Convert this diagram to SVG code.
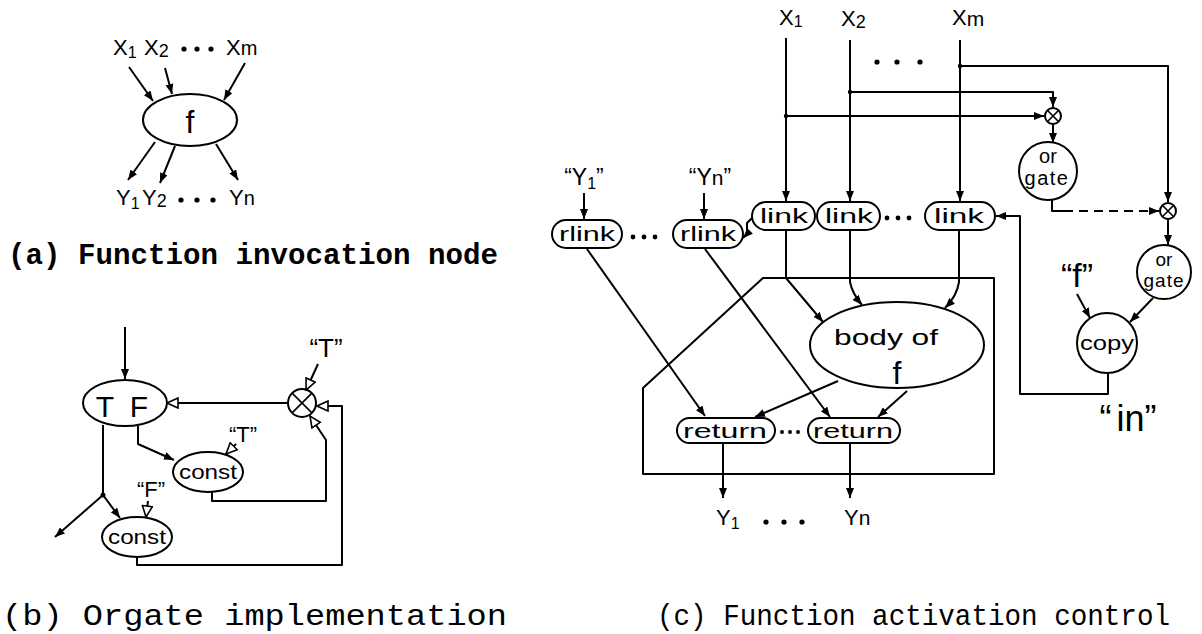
<svg xmlns="http://www.w3.org/2000/svg" width="1202" height="634" viewBox="0 0 1202 634">
<defs>
<style>
.ln{fill:none;stroke:#000;stroke-width:2;stroke-linejoin:round}
.nd{fill:#fff;stroke:#000;stroke-width:2}
.x{fill:none;stroke:#000;stroke-width:1.6}
.lb{font-family:"Liberation Sans",Arial,sans-serif;fill:#000}
.cap{font-family:"Liberation Mono","Courier New",monospace;fill:#000}
.dot{fill:#000}
</style>
<marker id="ah" viewBox="0 0 10 8" markerWidth="10" markerHeight="8" refX="10" refY="4" orient="auto" markerUnits="userSpaceOnUse"><path d="M0,0 L10,4 L0,8 Z" fill="#000"/></marker>
<marker id="oh" viewBox="0 0 13 12" markerWidth="13" markerHeight="12" refX="12" refY="6" orient="auto" markerUnits="userSpaceOnUse"><path d="M1,1 L12,6 L1,11 Z" fill="#fff" stroke="#000" stroke-width="1.6"/></marker>
</defs>
<rect width="1202" height="634" fill="#fff"/>

<!-- ============ (a) ============ -->
<g id="a-labels" class="lb" font-size="22">
<text x="113" y="55">X<tspan font-size="16" dy="3">1</tspan></text>
<text x="144" y="55">X<tspan font-size="18" dy="2">2</tspan></text>
<text x="226" y="55">X<tspan font-size="20">m</tspan></text>
<text x="116" y="205">Y<tspan font-size="16" dy="4">1</tspan></text>
<text x="142" y="205">Y<tspan font-size="18" dy="2">2</tspan></text>
<text x="229" y="205">Y<tspan font-size="20">n</tspan></text>
</g>
<g id="a-dots" class="dot">
<circle cx="184" cy="49" r="2.6"/><circle cx="197" cy="49" r="2.6"/><circle cx="211" cy="49" r="2.6"/>
<circle cx="181" cy="200" r="2.6"/><circle cx="197" cy="200" r="2.6"/><circle cx="213" cy="200" r="2.6"/>
</g>
<g id="a-f">
<ellipse cx="190" cy="120" rx="47" ry="26" class="nd"/>
<text x="190" y="133" font-size="32" text-anchor="middle" class="lb">f</text>
</g>
<g id="a-connectors" class="ln">
<path d="M129,67 L153,101" marker-end="url(#ah)"/>
<path d="M165,68 L172,94" marker-end="url(#ah)"/>
<path d="M245,63 L224,100" marker-end="url(#ah)"/>
<path d="M155,142 L128,180" marker-end="url(#ah)"/>
<path d="M175,146 L160,183" marker-end="url(#ah)"/>
<path d="M216,144 L238,180" marker-end="url(#ah)"/>
</g>
<text id="cap-a" class="cap" x="8" y="264" font-size="29" font-weight="bold" textLength="490" lengthAdjust="spacingAndGlyphs">(a) Function invocation node</text>

<!-- ============ (b) ============ -->
<g id="b-tf">
<ellipse cx="125" cy="403" rx="42" ry="23" class="nd"/>
<text x="105" y="417" font-size="30" text-anchor="middle" class="lb">T</text>
<text x="139" y="417" font-size="30" text-anchor="middle" class="lb">F</text>
</g>
<g id="b-or">
<circle cx="302" cy="403" r="14" class="nd"/>
<path class="x" d="M292.1,393.1 L311.9,412.9 M311.9,393.1 L292.1,412.9"/>
</g>
<g id="b-const1">
<ellipse cx="208" cy="472" rx="35" ry="20" class="nd"/>
<text x="208" y="479" font-size="21" text-anchor="middle" class="lb" textLength="58" lengthAdjust="spacingAndGlyphs">const</text>
</g>
<g id="b-const2">
<ellipse cx="137" cy="537" rx="35" ry="20" class="nd"/>
<text x="137" y="544" font-size="21" text-anchor="middle" class="lb" textLength="58" lengthAdjust="spacingAndGlyphs">const</text>
</g>
<g id="b-labels" class="lb" text-anchor="middle">
<text x="326" y="357" font-size="26">“T”</text>
<text x="243" y="442" font-size="22">“T”</text>
<text x="151" y="497" font-size="22">“F”</text>
</g>
<g id="b-connectors" class="ln">
<path d="M125,327 V379" marker-end="url(#ah)"/>
<path d="M288,403 H167" marker-end="url(#oh)"/>
<path d="M318,364 L306,390" marker-end="url(#oh)"/>
<path d="M137,557 V565 H342 V406 H317" marker-end="url(#oh)"/>
<path d="M212,492 V501 H326 V440 L310,416" marker-end="url(#oh)"/>
<path d="M236,444 L226,454" marker-end="url(#oh)"/>
<path d="M148,501 L146,517" marker-end="url(#oh)"/>
<path d="M138,426 V444 L174,460" marker-end="url(#ah)"/>
<path d="M103,425 V495"/>
<path d="M103,495 L55,537" marker-end="url(#ah)"/>
<path d="M103,495 L120,518" marker-end="url(#ah)"/>
</g>
<circle cx="103" cy="495" r="2.5" class="dot"/>
<text id="cap-b" class="cap" x="2" y="625" font-size="29" textLength="505" lengthAdjust="spacingAndGlyphs">(b) Orgate implementation</text>

<!-- ============ (c) ============ -->
<g id="c-inputs" class="lb" font-size="22">
<text x="779" y="25">X<tspan font-size="16" dy="2">1</tspan></text>
<text x="841" y="26">X<tspan font-size="18" dy="2">2</tspan></text>
<text x="952" y="25">X<tspan font-size="21" dy="1">m</tspan></text>
</g>
<g id="c-dots" class="dot">
<circle cx="877" cy="62" r="2.6"/><circle cx="897" cy="62" r="2.6"/><circle cx="920" cy="62" r="2.6"/>
<circle cx="887" cy="218" r="2.4"/><circle cx="898" cy="218" r="2.4"/><circle cx="909" cy="218" r="2.4"/>
<circle cx="633" cy="237" r="2.4"/><circle cx="644" cy="237" r="2.4"/><circle cx="655" cy="237" r="2.4"/>
<circle cx="782" cy="432" r="2"/><circle cx="790" cy="432" r="2"/><circle cx="798" cy="432" r="2"/>
<circle cx="766" cy="522" r="2.6"/><circle cx="784" cy="522" r="2.6"/><circle cx="802" cy="522" r="2.6"/>
<circle cx="960" cy="66" r="2.2"/><circle cx="850" cy="92" r="2.2"/><circle cx="786" cy="116" r="2.2"/>
</g>
<g id="c-xor1">
<circle cx="1053" cy="116" r="8" class="nd"/>
<path class="x" d="M1047.3,110.3 L1058.7,121.7 M1058.7,110.3 L1047.3,121.7"/>
</g>
<g id="c-xor2">
<circle cx="1168" cy="211" r="8" class="nd"/>
<path class="x" d="M1162.3,205.3 L1173.7,216.7 M1173.7,205.3 L1162.3,216.7"/>
</g>
<g id="c-orgate1">
<circle cx="1048" cy="171" r="29" class="nd"/>
<text font-size="20" text-anchor="middle" class="lb"><tspan x="1048" y="163">or</tspan><tspan x="1047" y="185" letter-spacing="1.5">gate</tspan></text>
</g>
<g id="c-orgate2">
<circle cx="1164" cy="272" r="27" class="nd"/>
<text font-size="19" text-anchor="middle" class="lb"><tspan x="1164" y="266">or</tspan><tspan x="1164" y="287" letter-spacing="1">gate</tspan></text>
</g>
<g id="c-copy">
<circle cx="1107" cy="343" r="30" class="nd"/>
<text x="1107" y="350" font-size="21" text-anchor="middle" class="lb" textLength="54" lengthAdjust="spacingAndGlyphs">copy</text>
</g>
<g id="c-link1">
<rect x="752" y="202" width="63" height="28" rx="14" class="nd"/>
<text x="784" y="223" font-size="21" text-anchor="middle" class="lb" textLength="48" lengthAdjust="spacingAndGlyphs">link</text>
</g>
<g id="c-link2">
<rect x="817" y="202" width="63" height="28" rx="14" class="nd"/>
<text x="849" y="223" font-size="21" text-anchor="middle" class="lb" textLength="48" lengthAdjust="spacingAndGlyphs">link</text>
</g>
<g id="c-link3">
<rect x="925" y="202" width="70" height="28" rx="14" class="nd"/>
<text x="959" y="223" font-size="21" text-anchor="middle" class="lb" textLength="50" lengthAdjust="spacingAndGlyphs">link</text>
</g>
<g id="c-rlink1">
<rect x="552" y="220" width="70" height="28" rx="14" class="nd"/>
<text x="587" y="241" font-size="21" text-anchor="middle" class="lb" textLength="56" lengthAdjust="spacingAndGlyphs">rlink</text>
</g>
<g id="c-rlink2">
<rect x="673" y="220" width="70" height="28" rx="14" class="nd"/>
<text x="708" y="241" font-size="21" text-anchor="middle" class="lb" textLength="56" lengthAdjust="spacingAndGlyphs">rlink</text>
</g>
<g id="c-labels" class="lb" text-anchor="middle">
<text x="584" y="185" font-size="23">“Y<tspan font-size="16" dy="4">1</tspan><tspan dy="-4">”</tspan></text>
<text x="710" y="185" font-size="23">“Y<tspan font-size="21">n</tspan>”</text>
<text x="1077" y="287" font-size="34">“f”</text>
<text x="1128" y="431" font-size="36">“<tspan dx="5">in</tspan>”</text>
</g>
<g id="c-frame">
<path class="ln" d="M763,278 H994 V474 H643 V388 Z"/>
</g>
<g id="c-body">
<ellipse cx="897" cy="345" rx="87" ry="43" class="nd"/>
<text x="886" y="345" font-size="22" text-anchor="middle" class="lb" textLength="104" lengthAdjust="spacingAndGlyphs">body of</text>
<text x="897" y="384" font-size="32" text-anchor="middle" class="lb">f</text>
</g>
<g id="c-return1">
<rect x="677" y="418" width="98" height="25" rx="12.5" class="nd"/>
<text x="725" y="438" font-size="21" text-anchor="middle" class="lb" textLength="84" lengthAdjust="spacingAndGlyphs">return</text>
</g>
<g id="c-return2">
<rect x="808" y="418" width="92" height="25" rx="12.5" class="nd"/>
<text x="853" y="438" font-size="21" text-anchor="middle" class="lb" textLength="80" lengthAdjust="spacingAndGlyphs">return</text>
</g>
<g id="c-outputs" class="lb" font-size="22">
<text x="716" y="525">Y<tspan font-size="16" dy="4">1</tspan></text>
<text x="844" y="525">Y<tspan font-size="21">n</tspan></text>
</g>
<g id="c-connectors" class="ln">
<path d="M786,38 V201" marker-end="url(#ah)"/>
<path d="M850,40 V201" marker-end="url(#ah)"/>
<path d="M960,40 V201" marker-end="url(#ah)"/>
<path d="M960,66 H1168 V202" marker-end="url(#ah)"/>
<path d="M850,92 H1053 V107" marker-end="url(#ah)"/>
<path d="M786,116 H1044" marker-end="url(#ah)"/>
<path d="M1053,124 V143" marker-end="url(#ah)"/>
<path d="M1052,200 V211 H1064"/>
<path d="M1064,211 H1159" stroke-dasharray="9,6" marker-end="url(#ah)"/>
<path d="M1168,219 V245" marker-end="url(#ah)"/>
<path d="M1153,298 L1130,322" marker-end="url(#ah)"/>
<path d="M1077,294 L1090,318" marker-end="url(#ah)"/>
<path d="M1108,373 V394 H1020 V216 H996" marker-end="url(#ah)"/>
<path d="M752,218 L747,223 V234 L743,238" marker-end="url(#ah)"/>
<path d="M584,193 V219" marker-end="url(#ah)"/>
<path d="M704,193 V219" marker-end="url(#ah)"/>
<path d="M587,249 L705,416" marker-end="url(#ah)"/>
<path d="M705,249 L830,417" marker-end="url(#ah)"/>
<path d="M786,230 V278 L823,322" marker-end="url(#ah)"/>
<path d="M850,230 V282 Q852,293 862,305" marker-end="url(#ah)"/>
<path d="M959,230 V282 Q957,296 945,308" marker-end="url(#ah)"/>
<path d="M838,381 L755,417" marker-end="url(#ah)"/>
<path d="M907,391 L878,417" marker-end="url(#ah)"/>
<path d="M723,443 V498" marker-end="url(#ah)"/>
<path d="M850,443 V498" marker-end="url(#ah)"/>
</g>
<text id="cap-c" class="cap" x="657" y="625" font-size="29" textLength="513" lengthAdjust="spacingAndGlyphs">(c) Function activation control</text>
</svg>
